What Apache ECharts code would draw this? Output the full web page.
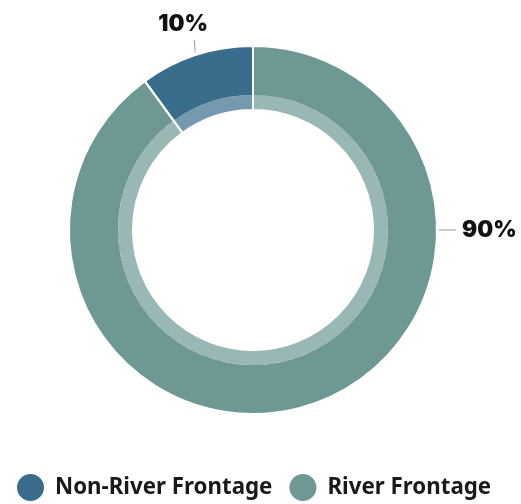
<!DOCTYPE html>
<html>
<head>
<meta charset="utf-8">
<script src="https://cdn.jsdelivr.net/npm/echarts@6/dist/echarts.min.js"></script>
<style>html,body{margin:0;padding:0;background:#fff;}#c{width:521px;height:504px;}</style>
</head>
<body>
<div id="c"></div>
<script>
const categories = ['Non-River Frontage', 'River Frontage'];
const values = [10, 90];
const labels = ['10%', '90%'];
const colors = ['#3a6d8c', '#6e9894'];

const CX = 253, CY = 230, R_OUT = 184, R_MID = 135, R_IN = 120;
const chart = echarts.init(document.getElementById('c'));
const data = categories.map((n, i) => ({ name: n, value: values[i], itemStyle: { color: colors[i] } }));
const total = values.reduce((a, b) => a + b, 0);
function midAngle(i) {
  let acc = 0;
  for (let k = 0; k < i; k++) acc += values[k];
  return (90 + (acc + values[i] / 2) / total * 360) * Math.PI / 180; // counter-clockwise
}
const labelFont = { fontFamily: 'Inter', fontWeight: 900, fontSize: 22.5, color: '#111' };
chart.setOption({
  animation: false,
  legend: {
    bottom: -2,
    left: 12,
    icon: 'circle',
    itemWidth: 27,
    itemHeight: 27,
    itemGap: 17,
    textStyle: { fontFamily: 'Noto Sans', fontWeight: 'bold', fontSize: 22.3, color: '#1a1a1a', padding: [0, 0, 0, 6] },
    data: categories
  },
  series: [
    {
      type: 'pie',
      center: [CX, CY],
      radius: [R_MID, R_OUT],
      startAngle: 90,
      clockwise: false,
      data: data,
      label: Object.assign({ show: true, formatter: p => labels[p.dataIndex] }, labelFont),
      labelLine: { show: true, length: 14, length2: 0, lineStyle: { color: '#999', width: 1 } },
      labelLayout: function (p) {
        const i = p.dataIndex;
        if (i === 0) {
          const a = midAngle(0);
          const p1 = [CX + (R_OUT + 3) * Math.cos(a), CY - (R_OUT + 3) * Math.sin(a)];
          const p2 = [CX + (R_OUT + 16) * Math.cos(a) + 3, CY - (R_OUT + 16) * Math.sin(a)];
          return { x: p2[0] - 11, y: p2[1] - 16, align: 'center', verticalAlign: 'middle', labelLinePoints: [p1, p2, p2] };
        } else {
          const p1 = [CX + R_OUT + 2, CY];
          const p2 = [CX + R_OUT + 19, CY];
          return { x: p2[0] + 6, y: CY, align: 'left', verticalAlign: 'middle', labelLinePoints: [p1, p2, p2] };
        }
      }
    },
    {
      type: 'pie',
      center: [CX, CY],
      radius: [R_IN, R_MID],
      startAngle: 90,
      clockwise: false,
      silent: true,
      itemStyle: { opacity: 0.7 },
      label: { show: false },
      labelLine: { show: false },
      data: data
    },
    {
      type: 'pie',
      center: [CX, CY],
      radius: [R_IN, R_OUT],
      startAngle: 90,
      clockwise: false,
      silent: true,
      legendHoverLink: false,
      itemStyle: { color: 'rgba(0,0,0,0)', borderColor: '#fff', borderWidth: 2 },
      label: { show: false },
      labelLine: { show: false },
      data: values.map((v, i) => ({ name: 'sep' + i, value: v }))
    }
  ]
});
</script>
</body>
</html>
